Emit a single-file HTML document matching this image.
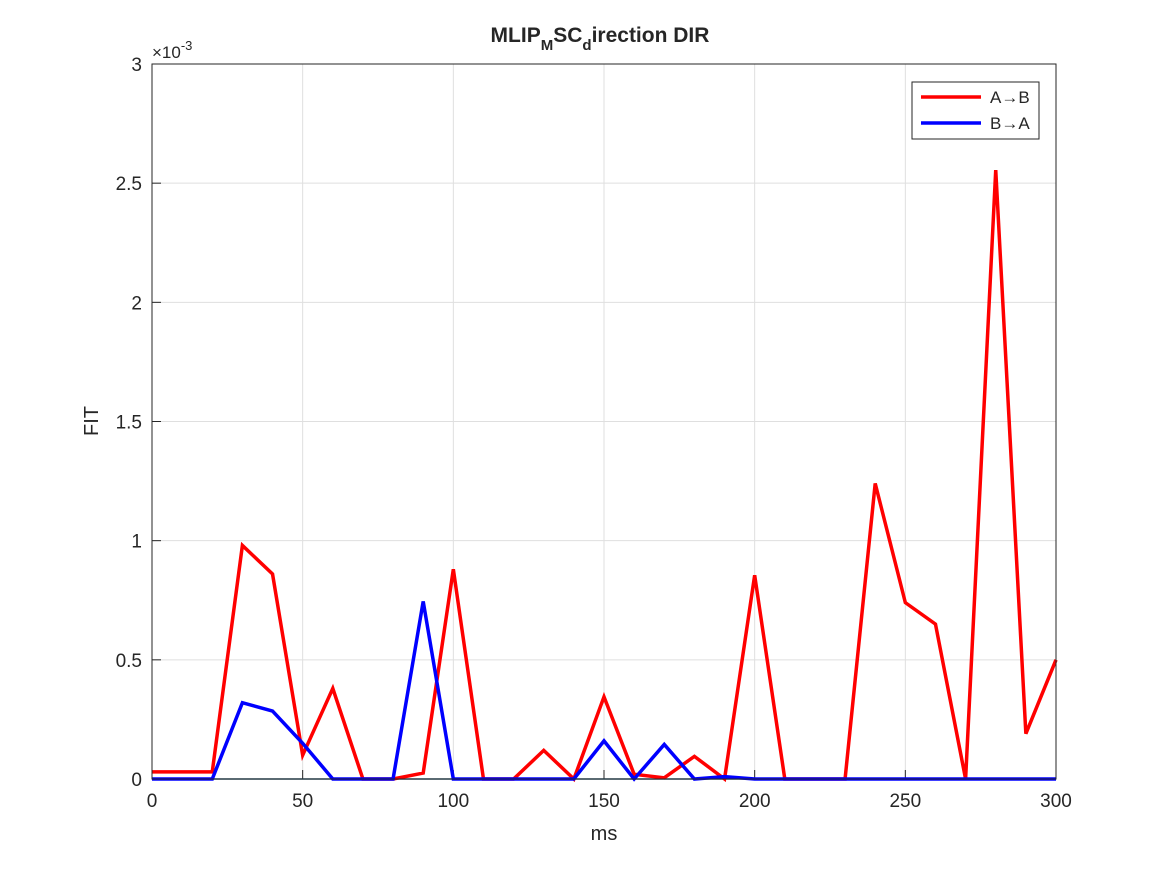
<!DOCTYPE html>
<html><head><meta charset="utf-8"><style>
body{margin:0;background:#fff;}
svg text{font-family:"Liberation Sans","DejaVu Sans",sans-serif;fill:#262626;}
</style></head><body>
<svg width="1167" height="875" xmlns="http://www.w3.org/2000/svg">
<rect width="1167" height="875" fill="#fff"/>
<g id="grid"></g>
<g id="ticks"></g>
<g id="series"></g>
<rect x="152" y="64" width="904" height="715" fill="none" stroke="#262626" stroke-width="1"/>
<text x="600" y="42" text-anchor="middle" font-size="21" font-weight="bold">MLIP<tspan font-size="15" dy="8">M</tspan><tspan dy="-8">SC</tspan><tspan font-size="15" dy="8">d</tspan><tspan dy="-8">irection DIR</tspan></text>
<text x="604" y="840" text-anchor="middle" font-size="20">ms</text>
<text x="98" y="421" text-anchor="middle" font-size="20" transform="rotate(-90 98 421)">FIT</text>
<text x="152" y="58" font-size="17">×10<tspan font-size="13" dy="-8">-3</tspan></text>
<g>
<rect x="912" y="82" width="127" height="57" fill="#fff" stroke="#262626" stroke-width="1"/>
<line x1="921" y1="97" x2="981" y2="97" stroke="#ff0000" stroke-width="3.5"/>
<text x="990" y="103" font-size="17">A→B</text>
<line x1="921" y1="123" x2="981" y2="123" stroke="#0000ff" stroke-width="3.5"/>
<text x="990" y="129" font-size="17">B→A</text>
</g>
</svg>
<script>
const xs=[0,10,20,30,40,50,60,70,80,90,100,110,120,130,140,150,160,170,180,190,200,210,220,230,240,250,260,270,280,290,300];
const ab=[0.03,0.03,0.03,0.98,0.86,0.10,0.38,0,0,0.025,0.88,0,0,0.12,0,0.345,0.02,0.005,0.095,0,0.855,0,0,0,1.24,0.74,0.65,0,2.555,0.19,0.50];
const ba=[0,0,0,0.32,0.285,0.15,0,0,0,0.745,0,0,0,0,0,0.16,0,0.145,0,0.01,0,0,0,0,0,0,0,0,0,0,0];
const xTicks=[0,50,100,150,200,250,300];
const yTicks=[0,0.5,1,1.5,2,2.5,3];
const yLabels=["0","0.5","1","1.5","2","2.5","3"];
const NS="http://www.w3.org/2000/svg";
const X=v=>152+v/300*904, Y=v=>779-v/3*715;
const grid=document.getElementById('grid'),ticks=document.getElementById('ticks'),ser=document.getElementById('series');
function mk(t,a,p){const e=document.createElementNS(NS,t);for(const k in a)e.setAttribute(k,a[k]);p.appendChild(e);return e;}
xTicks.forEach(v=>{
 const g=mk('line',{x1:X(v),x2:X(v),y1:64,y2:779,stroke:'#dfdfdf','stroke-width':1},grid);
 
 
 const t=mk('line',{x1:X(v),x2:X(v),y1:779,y2:770,stroke:'#262626'},ticks);
 
 
 const l=mk('text',{x:X(v),y:807,'text-anchor':'middle','font-size':19},ticks);l.textContent=v;
 
 
});
yTicks.forEach((v,i)=>{
 const g=mk('line',{x1:152,x2:1056,y1:Y(v),y2:Y(v),stroke:'#dfdfdf','stroke-width':1},grid);
 
 
 const t=mk('line',{x1:152,x2:161,y1:Y(v),y2:Y(v),stroke:'#262626'},ticks);
 
 
 const l=mk('text',{x:142,y:Y(v)+7,'text-anchor':'end','font-size':19},ticks);l.textContent=yLabels[i];
 
 
});
const base=mk('line',{x1:X(0),x2:X(300),y1:Y(0),y2:Y(0),stroke:'#1f5f7f','stroke-width':1.5},ser);


function line(d,c,n){const p=mk('polyline',{points:xs.map((x,i)=>X(x)+','+Y(d[i])).join(' '),fill:'none',stroke:c,'stroke-width':3.5,'stroke-linejoin':'miter'},ser);
 
 }
line(ab,'#ff0000','series-a-to-b');
line(ba,'#0000ff','series-b-to-a');
</script>
</body></html>
